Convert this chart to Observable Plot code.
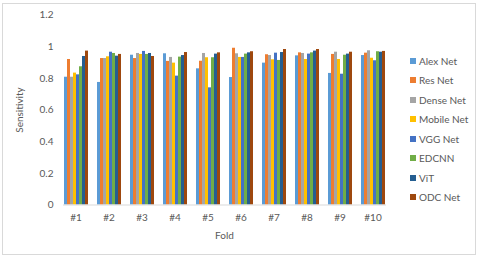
<!DOCTYPE html>
<html><head><meta charset="utf-8">
<script src="https://cdn.jsdelivr.net/npm/d3@7"></script>
<script src="https://cdn.jsdelivr.net/npm/@observablehq/plot@0.6"></script>
<style>
body{margin:0;background:#fff;font-family:Lato,"Open Sans",sans-serif;}
#wrap{position:relative;width:480px;height:259px;overflow:hidden;background:#fff}
#wrap svg{position:absolute;left:0;top:0}
#border{position:absolute;left:2px;top:3px;width:472px;height:250px;border:1px solid #d9d9d9;pointer-events:none}
#legend{position:absolute;left:410px;top:51px;font-size:10px;color:#595959}
.item{display:flex;align-items:center;height:19.5px;white-space:nowrap}
.sw{width:6px;height:6px;margin-right:3px}
</style></head><body><div id="wrap"><div id="border"></div><div id="legend"></div></div>
<script>
const folds = ["#1","#2","#3","#4","#5","#6","#7","#8","#9","#10"];
const models = ["Alex Net","Res Net","Dense Net","Mobile Net","VGG Net","EDCNN","ViT","ODC Net"];
const colors = ["#5B9BD5","#ED7D31","#A5A5A5","#FFC000","#4472C4","#70AD47","#255E91","#9E480E"];
const yTicks = [0, 0.2, 0.4, 0.6, 0.8, 1, 1.2];

const alexNet   = [0.807,0.774,0.946,0.955,0.860,0.805,0.896,0.942,0.831,0.944];
const resNet    = [0.919,0.925,0.925,0.907,0.908,0.990,0.949,0.961,0.951,0.959];
const denseNet  = [0.807,0.925,0.957,0.932,0.957,0.955,0.944,0.957,0.965,0.974];
const mobileNet = [0.833,0.936,0.951,0.896,0.930,0.932,0.917,0.919,0.919,0.927];
const vggNet    = [0.822,0.965,0.970,0.814,0.740,0.932,0.959,0.953,0.826,0.911];
const edcnn     = [0.873,0.957,0.951,0.934,0.930,0.953,0.913,0.961,0.946,0.968];
const vit       = [0.938,0.940,0.957,0.944,0.953,0.961,0.963,0.972,0.953,0.965];
const odcNet    = [0.972,0.951,0.938,0.963,0.961,0.968,0.982,0.982,0.965,0.970];

const series = [alexNet,resNet,denseNet,mobileNet,vggNet,edcnn,vit,odcNet];
const rows = [];
folds.forEach((f,i)=>models.forEach((m,j)=>rows.push({fold:f, model:m, value:series[j][i]})));

const fmt = d => String(+d.toFixed(1));

const chart = Plot.plot({
  width: 480, height: 259,
  marginLeft: 57, marginRight: 89, marginTop: 14.5, marginBottom: 54.5,
  style: {fontFamily: "Lato, 'Open Sans', sans-serif", fontSize: "10px", color: "#595959", background: "transparent"},
  fx: {domain: folds, paddingInner: 0.25, paddingOuter: 0.125, axis: null},
  x: {domain: models, axis: null, padding: 0},
  y: {domain: [0, 1.2], axis: null},
  color: {domain: models, range: colors},
  marks: [
    Plot.axisY(yTicks, {tickSize: 0, tickPadding: 10, tickFormat: fmt, label: "Sensitivity", labelAnchor: "center", labelArrow: "none", labelOffset: 48}),
    Plot.axisFx({anchor: "bottom", tickSize: 0, tickPadding: 9, label: "Fold", labelAnchor: "center", labelArrow: "none", labelOffset: 34}),
    Plot.barY(rows, {fx: "fold", x: "model", y: "value", fill: "model"}),
    Plot.frame({anchor: "bottom", stroke: "#d9d9d9", facet: "super"})
  ]
});
document.getElementById("wrap").appendChild(chart);

const scale = chart.scale("color");
const lg = document.getElementById("legend");
scale.domain.forEach((m,i)=>{
  const it = document.createElement("div"); it.className = "item";
  const sw = document.createElement("span"); sw.className = "sw"; sw.style.background = scale.range[i];
  const tx = document.createElement("span"); tx.textContent = m;
  it.appendChild(sw); it.appendChild(tx); lg.appendChild(it);
});
</script></body></html>
